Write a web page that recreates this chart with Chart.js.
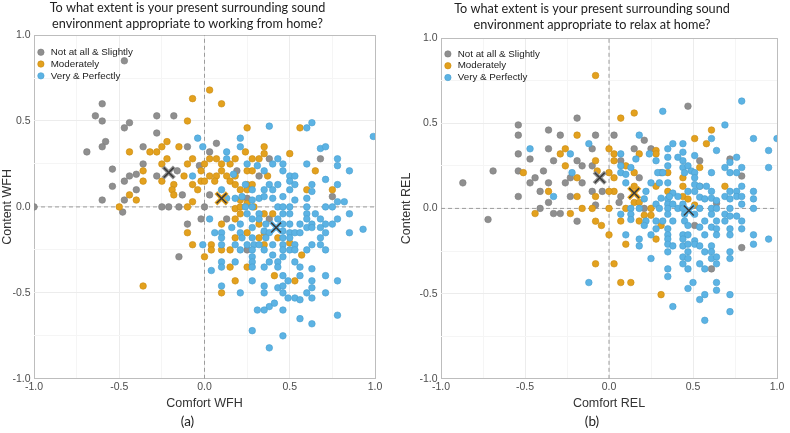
<!DOCTYPE html>
<html><head><meta charset="utf-8">
<script src="https://cdn.jsdelivr.net/npm/chart.js@4.4.1/dist/chart.umd.min.js"></script>
<style>
html,body{margin:0;padding:0;background:#fff;}
#wrap{position:relative;width:790px;height:433px;overflow:hidden;}
canvas{position:absolute;top:0;}
</style></head><body>
<div id="wrap">
<canvas id="wfh" width="395" height="433" style="left:0"></canvas>
<canvas id="rel" width="395" height="433" style="left:395px"></canvas>
</div>
<script>
// ---------- DATA ----------
const groupNames = ["Not at all & Slightly", "Moderately", "Very & Perfectly"];
const axisTickLabels = ["-1.0", "-0.5", "0.0", "0.5", "1.0"];

// (a) Working from home: [Comfort WFH, Content WFH]
const wfhGray = [[-0.47,0.85],[-0.6,0.6],[-0.64,0.53],[-0.6,0.5],[-0.47,0.46],[-0.44,0.49],[-0.28,0.53],[-0.18,0.53],[-0.28,0.43],[-0.58,0.38],[-0.6,0.35],[-0.69,0.32],[-0.36,0.35],[-0.1,0.35],[-0.54,0.22],[-0.36,0.25],[-0.44,0.18],[-0.4,0.19],[-0.28,0.18],[-0.47,0.15],[-0.54,0.12],[-0.4,0.1],[-0.16,0.21],[-0.13,0.07],[-0.03,0.24],[-0.6,0.04],[-0.47,0.04],[-1.0,0.0],[-0.48,-0.03],[-0.25,0.0],[-0.21,0.0],[-0.15,0.0],[0.0,0.0],[-0.02,-0.07],[-0.1,-0.1],[-0.15,-0.29],[0.07,0.37],[0.03,0.32],[0.19,0.21],[0.32,0.18],[0.38,0.28],[0.68,0.28],[0.03,0.07],[0.25,0.05],[0.75,0.06],[0.13,-0.07],[0.38,-0.07],[0.25,-0.25]];
const wfhModerate = [[-0.07,0.63],[-0.1,0.5],[-0.44,0.32],[-0.32,0.32],[-0.28,0.32],[-0.25,0.35],[-0.22,0.38],[-0.15,0.35],[-0.07,0.28],[-0.1,0.25],[-0.22,0.28],[-0.25,0.25],[-0.36,0.21],[-0.36,0.15],[-0.25,0.15],[-0.18,0.13],[-0.12,0.18],[-0.07,0.13],[-0.04,0.1],[-0.19,0.1],[-0.18,0.07],[-0.44,0.07],[-0.02,0.21],[-0.02,0.15],[-0.07,0.03],[-0.4,0.04],[-0.5,0.0],[-0.1,0.0],[-0.1,-0.15],[-0.07,-0.22],[0.0,-0.29],[-0.36,-0.46],[0.03,0.68],[0.1,0.6],[0.25,0.46],[0.56,0.46],[0.35,0.35],[0.35,0.31],[0.24,0.32],[0.5,0.31],[0.03,0.28],[0.07,0.28],[0.0,0.25],[0.1,0.25],[0.15,0.25],[0.18,0.28],[0.28,0.28],[0.32,0.28],[0.37,0.18],[0.65,0.21],[0.03,0.18],[0.07,0.18],[0.1,0.21],[0.13,0.18],[0.15,0.15],[0.18,0.13],[0.21,0.1],[0.25,0.13],[0.28,0.13],[0.06,0.15],[0.0,0.15],[0.25,0.1],[0.25,0.21],[0.28,0.21],[0.18,0.18],[0.6,0.1],[0.75,0.1],[0.21,0.04],[0.25,0.02],[0.18,-0.01],[0.21,0.0],[0.29,0.0],[0.21,-0.04],[0.35,-0.04],[0.4,-0.04],[0.18,-0.07],[0.1,-0.1],[0.32,-0.1],[0.25,-0.15],[0.35,-0.15],[0.18,-0.18],[0.32,-0.18],[0.43,-0.18],[0.04,-0.22],[0.35,-0.22],[0.5,-0.21],[0.04,-0.25],[0.15,-0.25],[0.1,-0.25],[0.57,-0.28],[0.15,-0.35],[0.25,-0.35],[0.41,-0.4],[0.18,-0.43],[0.53,-0.43],[0.1,-0.5]];
const wfhVery = [[-0.04,0.4],[-0.01,0.35],[-0.07,0.18],[0.38,0.47],[0.6,0.46],[0.63,0.49],[0.99,0.41],[0.21,0.4],[0.21,0.35],[0.13,0.32],[0.68,0.34],[0.71,0.35],[0.13,0.28],[0.43,0.28],[0.4,0.25],[0.46,0.25],[0.25,0.25],[0.31,0.24],[0.35,0.21],[0.46,0.21],[0.5,0.18],[0.53,0.18],[0.6,0.25],[0.78,0.28],[0.78,0.24],[0.85,0.21],[0.71,0.16],[0.78,0.13],[0.63,0.13],[0.5,0.15],[0.53,0.13],[0.24,0.13],[0.38,0.13],[0.43,0.13],[0.4,0.1],[0.35,0.1],[0.28,0.1],[0.5,0.1],[0.63,0.09],[0.1,0.1],[0.17,0.19],[0.13,0.05],[0.18,0.05],[0.22,0.06],[0.28,0.04],[0.32,0.05],[0.35,0.06],[0.4,0.05],[0.46,0.06],[0.53,0.04],[0.6,0.05],[0.78,0.03],[0.82,0.03],[0.24,0.0],[0.28,0.0],[0.43,0.0],[0.46,0.0],[0.5,0.0],[0.6,0.0],[0.71,0.0],[0.75,0.0],[0.25,-0.04],[0.32,-0.04],[0.46,-0.04],[0.5,-0.04],[0.6,-0.04],[0.65,-0.04],[0.85,-0.04],[0.03,-0.07],[0.28,-0.07],[0.32,-0.07],[0.43,-0.07],[0.6,-0.07],[0.68,-0.07],[0.78,-0.07],[0.21,-0.1],[0.36,-0.1],[0.46,-0.1],[0.5,-0.1],[0.56,-0.1],[0.63,-0.1],[0.71,-0.1],[0.75,-0.1],[0.06,-0.15],[0.1,-0.15],[0.16,-0.12],[0.21,-0.15],[0.28,-0.12],[0.35,-0.14],[0.38,-0.15],[0.46,-0.14],[0.5,-0.15],[0.53,-0.15],[0.56,-0.15],[0.6,-0.12],[0.63,-0.12],[0.68,-0.12],[0.71,-0.15],[0.85,-0.15],[0.93,-0.13],[0.1,-0.18],[0.22,-0.18],[0.28,-0.18],[0.36,-0.18],[0.46,-0.18],[0.5,-0.18],[0.68,-0.18],[-0.01,-0.22],[0.1,-0.22],[0.18,-0.22],[0.25,-0.22],[0.29,-0.22],[0.32,-0.22],[0.4,-0.22],[0.46,-0.22],[0.53,-0.22],[0.63,-0.22],[0.68,-0.22],[0.21,-0.25],[0.28,-0.25],[0.35,-0.25],[0.46,-0.25],[0.5,-0.25],[0.53,-0.25],[0.6,-0.25],[0.71,-0.25],[0.28,-0.29],[0.4,-0.28],[0.46,-0.29],[0.1,-0.32],[0.18,-0.32],[0.28,-0.32],[0.38,-0.32],[0.43,-0.32],[0.53,-0.32],[0.1,-0.35],[0.28,-0.35],[0.35,-0.35],[0.43,-0.35],[0.56,-0.35],[0.04,-0.37],[0.63,-0.36],[0.46,-0.4],[0.56,-0.4],[0.71,-0.4],[0.28,-0.43],[0.49,-0.43],[0.63,-0.43],[0.78,-0.43],[0.1,-0.46],[0.35,-0.46],[0.43,-0.47],[0.46,-0.46],[0.63,-0.47],[0.21,-0.5],[0.35,-0.5],[0.46,-0.5],[0.6,-0.5],[0.71,-0.5],[0.49,-0.53],[0.53,-0.53],[0.56,-0.54],[0.63,-0.53],[0.38,-0.58],[0.41,-0.56],[0.31,-0.6],[0.35,-0.6],[0.46,-0.6],[0.78,-0.63],[0.56,-0.65],[0.63,-0.68],[0.28,-0.72],[0.46,-0.75],[0.38,-0.82]];
const wfhCentroids = [[-0.21,0.2],[0.1,0.05],[0.42,-0.12]];

// (b) Relaxing at home: [Comfort REL, Content REL]
const relGray = [[-0.19,0.53],[-0.54,0.49],[-0.54,0.43],[-0.36,0.46],[-0.29,0.43],[-0.08,0.43],[-0.36,0.35],[-0.1,0.35],[-0.54,0.32],[-0.47,0.29],[-0.33,0.28],[-0.19,0.28],[-0.16,0.25],[-0.1,0.25],[-0.69,0.22],[-0.54,0.22],[-0.44,0.18],[-0.39,0.22],[-0.47,0.15],[-0.23,0.18],[-0.26,0.15],[-0.16,0.15],[-0.87,0.15],[-0.36,0.15],[-0.41,0.1],[-0.1,0.1],[-0.54,0.07],[-0.23,0.07],[-0.36,0.035],[-0.41,0.0],[-0.33,-0.03],[-0.29,-0.03],[-0.08,0.02],[-0.19,-0.075],[-0.72,-0.065],[0.47,0.6],[0.03,0.43],[0.21,0.4],[0.15,0.35],[0.25,0.35],[0.07,0.28],[0.54,0.28],[0.72,0.29],[0.31,0.21],[0.79,0.19],[0.18,0.18],[0.54,0.13],[-0.04,0.1],[0.07,0.07],[0.06,0.035],[0.64,0.03],[0.21,0.0],[0.51,-0.1],[0.79,-0.23],[0.61,-0.355]];
const relModerate = [[-0.08,0.78],[-0.19,0.43],[-0.26,0.35],[-0.29,0.32],[-0.26,0.25],[-0.08,0.28],[-0.51,0.21],[-0.19,0.18],[-0.36,0.1],[-0.19,0.07],[-0.08,0.07],[-0.44,-0.03],[-0.23,-0.03],[-0.16,0.0],[-0.1,0.0],[-0.08,-0.075],[-0.08,-0.325],[0.07,0.53],[0.15,0.56],[0.61,0.46],[0.51,0.41],[0.58,0.38],[0.0,0.35],[0.28,0.34],[0.28,0.32],[0.03,0.32],[0.18,0.32],[0.03,0.28],[0.1,0.25],[0.54,0.24],[0.35,0.21],[0.15,0.21],[-0.07,0.22],[0.0,0.21],[0.03,0.18],[0.44,0.18],[0.28,0.13],[0.44,0.13],[0.69,0.13],[0.15,0.13],[0.35,0.1],[0.03,0.1],[0.0,0.1],[0.44,0.07],[0.47,0.055],[0.15,0.035],[0.18,0.035],[0.0,0.0],[0.1,0.0],[0.25,0.0],[0.51,0.02],[0.21,-0.04],[0.25,-0.04],[0.07,-0.074],[0.18,-0.074],[-0.045,-0.1],[0.31,-0.1],[0.0,-0.155],[0.28,-0.18],[0.1,-0.21],[0.03,-0.325],[0.07,-0.435],[0.13,-0.435],[0.31,-0.506]];
const relVery = [[-0.47,0.35],[-0.23,0.32],[-0.12,0.38],[-0.22,0.21],[-0.33,0.07],[-0.12,-0.435],[0.32,0.57],[0.79,0.63],[0.69,0.49],[0.61,0.41],[0.86,0.41],[1.0,0.41],[0.18,0.43],[0.24,0.32],[0.35,0.35],[0.38,0.38],[0.44,0.38],[0.35,0.3],[0.41,0.3],[0.44,0.33],[0.07,0.32],[0.95,0.34],[0.64,0.34],[0.51,0.31],[0.16,0.29],[0.28,0.28],[0.44,0.28],[0.76,0.3],[0.07,0.25],[0.13,0.24],[0.35,0.25],[0.44,0.24],[0.47,0.25],[0.69,0.24],[0.79,0.24],[0.95,0.24],[0.72,0.27],[0.07,0.21],[0.1,0.2],[0.29,0.21],[0.32,0.21],[0.45,0.21],[0.49,0.22],[0.51,0.21],[0.61,0.21],[0.72,0.21],[0.76,0.21],[0.51,0.18],[0.1,0.15],[0.25,0.15],[0.3,0.15],[0.35,0.15],[0.51,0.14],[0.54,0.13],[0.58,0.13],[0.79,0.13],[0.38,0.09],[0.47,0.1],[0.51,0.1],[0.61,0.1],[0.72,0.1],[0.76,0.1],[0.86,0.1],[0.22,0.1],[0.21,0.056],[0.31,0.06],[0.35,0.056],[0.36,0.07],[0.41,0.07],[0.54,0.066],[0.57,0.056],[0.61,0.06],[0.64,0.046],[0.69,0.07],[0.72,0.056],[0.76,0.07],[0.79,0.07],[0.86,0.056],[0.28,0.025],[0.35,0.025],[0.38,0.025],[0.44,0.025],[0.79,0.025],[0.13,0.0],[0.18,0.0],[0.3,0.0],[0.35,0.0],[0.41,0.0],[0.44,0.0],[0.54,0.0],[0.61,0.0],[0.64,0.0],[0.72,0.0],[0.86,0.0],[0.07,-0.034],[0.13,-0.034],[0.35,-0.034],[0.45,-0.034],[0.51,-0.034],[0.61,-0.034],[0.69,-0.034],[0.72,-0.045],[0.76,-0.045],[0.13,-0.065],[0.22,-0.074],[0.28,-0.074],[0.32,-0.074],[0.38,-0.074],[0.45,-0.074],[0.57,-0.074],[0.64,-0.074],[0.69,-0.074],[0.79,-0.074],[0.21,-0.1],[0.28,-0.12],[0.35,-0.12],[0.47,-0.1],[0.54,-0.11],[0.61,-0.11],[0.64,-0.12],[0.72,-0.12],[0.79,-0.12],[0.1,-0.155],[0.25,-0.155],[0.35,-0.155],[0.44,-0.155],[0.47,-0.155],[0.57,-0.155],[0.64,-0.155],[0.72,-0.155],[0.86,-0.155],[0.18,-0.18],[0.35,-0.18],[0.44,-0.18],[0.51,-0.19],[0.95,-0.18],[0.18,-0.22],[0.35,-0.21],[0.38,-0.22],[0.44,-0.22],[0.47,-0.21],[0.51,-0.21],[0.54,-0.22],[0.61,-0.22],[0.86,-0.21],[0.35,-0.255],[0.47,-0.255],[0.57,-0.255],[0.61,-0.255],[0.72,-0.255],[0.25,-0.294],[0.44,-0.285],[0.47,-0.294],[0.61,-0.294],[0.64,-0.285],[0.72,-0.294],[0.44,-0.325],[0.54,-0.325],[0.64,-0.325],[0.35,-0.355],[0.47,-0.355],[0.57,-0.355],[0.35,-0.4],[0.5,-0.435],[0.64,-0.435],[0.47,-0.47],[0.64,-0.48],[0.57,-0.506],[0.72,-0.506],[0.54,-0.535],[0.38,-0.576],[0.72,-0.606],[0.57,-0.657]];
const relCentroids = [[-0.055,0.18],[0.15,0.09],[0.475,-0.012]];

// ---------- STYLE ----------
const fills = ["#8f8f8f", "#e3a11e", "#5cb3e4"];
const edges = ["#7d7d7d", "#c98c12", "#4a9fcf"];
const titleFont = "Lato";
const axisFont = "Liberation Sans";

function pts(a){ return a.map(p => ({x:p[0], y:p[1]})); }
function isLabelTick(v){ return Math.abs(v*2 - Math.round(v*2)) < 1e-6; }
function tickText(v){
  const i = axisTickLabels.findIndex(t => Math.abs(parseFloat(t) - v) < 1e-6);
  return i >= 0 ? axisTickLabels[i] : '';
}
function gridColor(c){
  const v = c.tick ? c.tick.value : 0;
  if (Math.abs(Math.abs(v) - 1) < 1e-6) return '#bdbdbd';
  return isLabelTick(v) ? '#ececec' : '#f5f5f5';
}

// places the (chartArea) legend inside the plotting panel, below its top edge
const legendInPanel = {
  id:'legendInPanel',
  afterLayout(chart, args, opts){
    const lg = chart.legend;
    if (!lg) return;
    const h = lg.height;
    lg.top = chart.chartArea.top + (opts.offsetY || 0);
    lg.bottom = lg.top + h;
    lg.left = chart.chartArea.left;
  }
};

function build(id, o){
  const ds = [];
  ds.push({type:'line', label:'_v', data:[{x:0,y:-1},{x:0,y:1}], borderColor:'#9c9c9c', borderWidth:1, borderDash:[4,3], pointRadius:0, order:20});
  ds.push({type:'line', label:'_h', data:[{x:-1,y:0},{x:1,y:0}], borderColor:'#9c9c9c', borderWidth:1, borderDash:[4,3], pointRadius:0, order:20});
  o.sets.forEach((s,i) => ds.push({type:'scatter', label:groupNames[i], data:pts(s), backgroundColor:fills[i], borderColor:edges[i], borderWidth:0.6, pointRadius:3.3, order:12 - i}));
  o.cents.forEach((c,i) => ds.push({type:'scatter', label:'_halo'+i, data:pts([c]), pointStyle:'crossRot', pointRadius:8, borderColor:fills[i], borderWidth:4, backgroundColor:fills[i], order:3}));
  o.cents.forEach((c,i) => ds.push({type:'scatter', label:'_x'+i, data:pts([c]), pointStyle:'crossRot', pointRadius:7, borderColor:'#3a3a3a', borderWidth:1.5, backgroundColor:'#3a3a3a', order:1}));

  const tickOpts = {stepSize:0.25, autoSkip:false, maxRotation:0, minRotation:0, color:'#4d4d4d', font:{family:axisFont, size:10.5}, callback: v => tickText(v)};
  return new Chart(document.getElementById(id), {
    data:{datasets:ds},
    plugins:[legendInPanel],
    options:{
      responsive:false, animation:false, events:[],
      layout:{padding:{left:o.padL, right:o.padR, top:0, bottom:0}},
      scales:{
        x:{type:'linear', min:-1, max:1, ticks:Object.assign({}, tickOpts, {padding:2}),
           grid:{color:gridColor, lineWidth:1, drawTicks:false}, border:{display:false},
           title:{display:true, text:o.xTitle, color:'#333', font:{family:axisFont, size:12.5}, padding:{top:0, bottom:1}},
           afterFit: s => { s.height = 33; }},
        y:{type:'linear', min:-1, max:1, ticks:Object.assign({}, tickOpts, {padding:3.5}),
           grid:{color:gridColor, lineWidth:1, drawTicks:false}, border:{display:false},
           title:{display:true, text:o.yTitle, color:'#333', font:{family:axisFont, size:12.5}, padding:{top:o.yTitlePad, bottom:0}},
           afterFit: s => { s.width = o.yWidth; }}
      },
      plugins:{
        tooltip:{enabled:false},
        title:{display:true, text:o.title, color:'#222', font:{family:titleFont, size:12.7, weight:'normal', lineHeight:1.23}, padding:{top:o.titleTop, bottom:o.titleBottom}},
        subtitle:{display:true, position:'bottom', text:o.panel, color:'#222', font:{family:titleFont, size:13.5, weight:'normal', lineHeight:1.2}, padding:{top:2, bottom:3}},
        legendInPanel:{offsetY:o.legendY},
        legend:{position:'chartArea', align:'start',
          labels:{usePointStyle:true, pointStyle:'circle', boxWidth:10, boxHeight:4.5, padding:2, color:'#222', font:{family:axisFont, size:9.8},
                  filter: it => !String(it.text).startsWith('_'),
                  sort: (a,b) => a.datasetIndex - b.datasetIndex}}
      }
    }
  });
}

build('wfh', {sets:[wfhGray, wfhModerate, wfhVery], cents:wfhCentroids,
  title:["To what extent is your present surrounding sound", "environment appropriate to working from home?"],
  panel:"(a)", xTitle:"Comfort WFH", yTitle:"Content WFH",
  padL:0, padR:20, yWidth:34, yTitlePad:0, titleTop:0, titleBottom:3.8, legendY:10.3});
build('rel', {sets:[relGray, relModerate, relVery], cents:relCentroids,
  title:["To what extent is your present surrounding sound", "environment appropriate to relax at home?"],
  panel:"(b)", xTitle:"Comfort REL", yTitle:"Content REL",
  padL:12, padR:13, yWidth:34, yTitlePad:-8, titleTop:1.5, titleBottom:5.3, legendY:9});
</script>
</body></html>
